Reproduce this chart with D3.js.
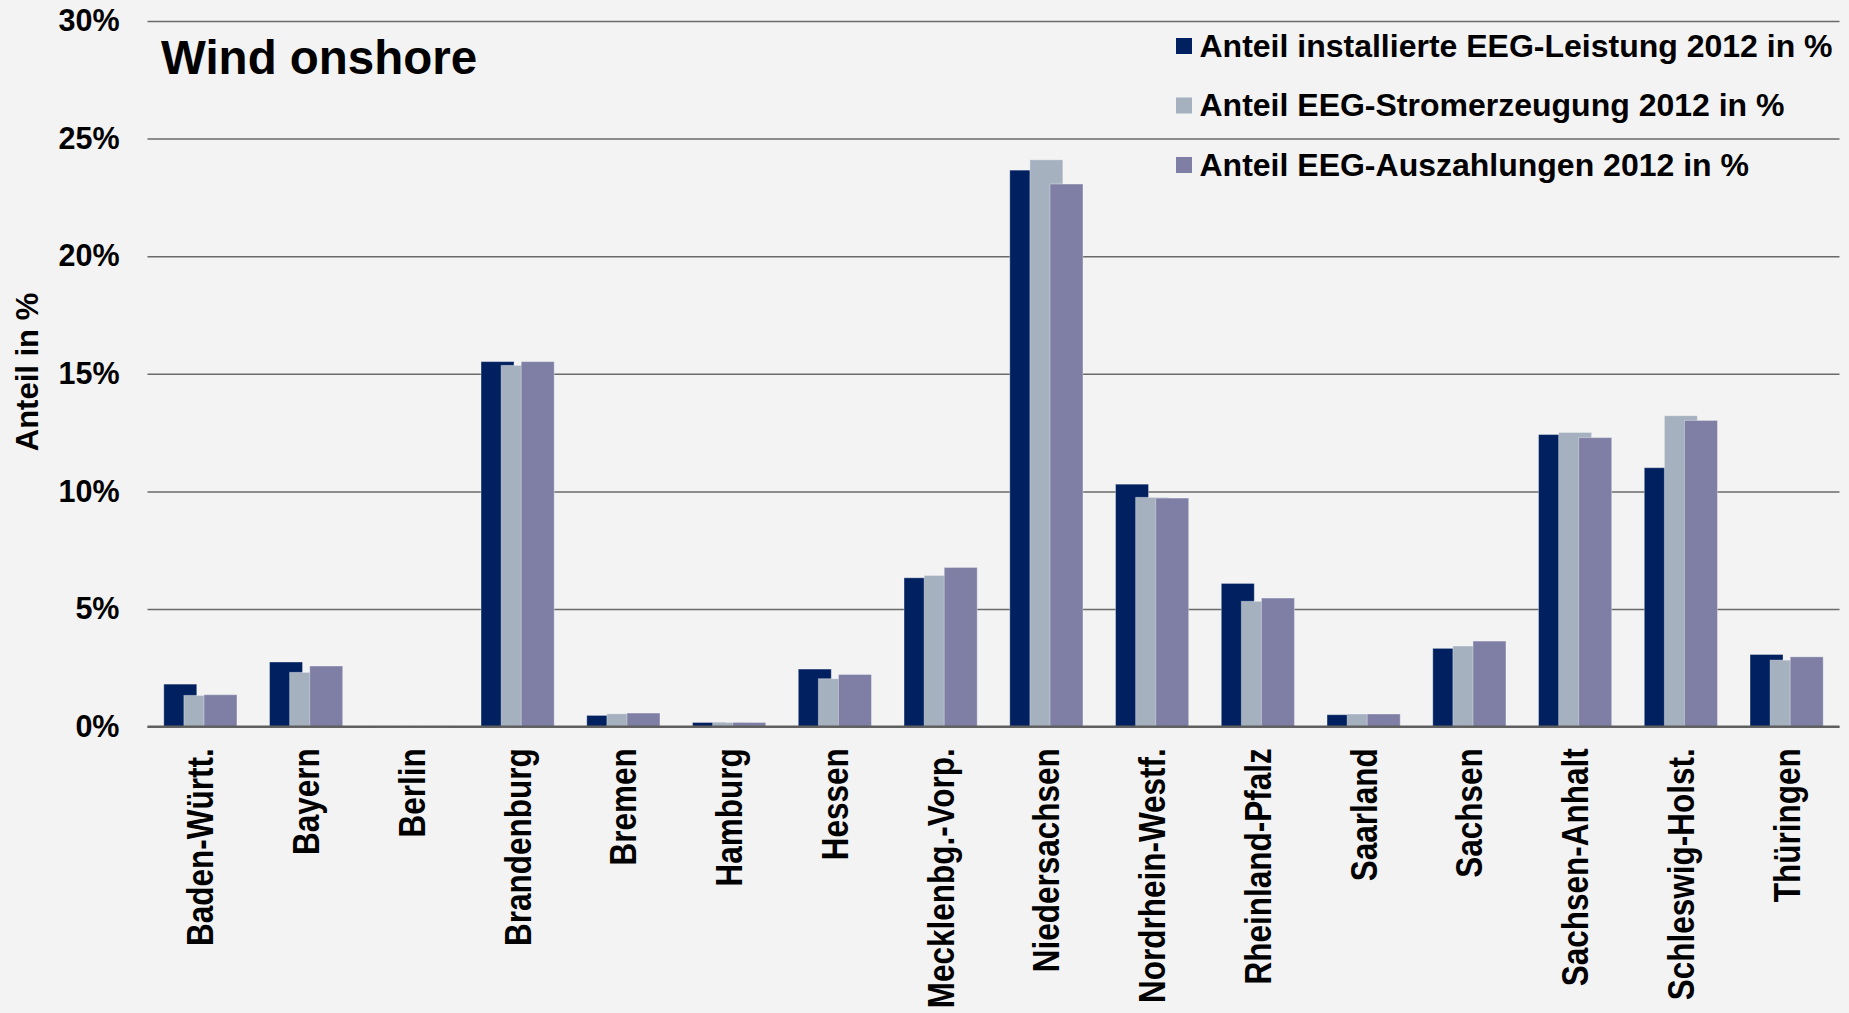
<!DOCTYPE html>
<html lang="de">
<head>
  <meta charset="UTF-8">
  <title>Wind onshore</title>
  <script src="https://d3js.org/d3.v7.min.js"></script>
  <style>
    body {
      margin: 0;
      background: #f3f3f3;
    }
    svg text {
      font-family: Arial, "Liberation Sans", sans-serif;
      font-weight: bold;
      fill: #000;
    }
  </style>
</head>
<body>
  <div id="chart"></div>
  <script>
    const categories = ['Baden-Württ.', 'Bayern', 'Berlin', 'Brandenburg', 'Bremen', 'Hamburg', 'Hessen',
      'Mecklenbg.-Vorp.', 'Niedersachsen', 'Nordrhein-Westf.', 'Rheinland-Pfalz', 'Saarland', 'Sachsen',
      'Sachsen-Anhalt', 'Schleswig-Holst.', 'Thüringen']

    const leistung = [1.81, 2.75, 0.03, 15.52, 0.48, 0.18, 2.45, 6.33, 23.66, 10.31, 6.09, 0.51, 3.33, 12.42, 11.01, 3.07]
    const stromerzeugung = [1.33, 2.31, 0.02, 15.36, 0.55, 0.18, 2.04, 6.43, 24.1, 9.75, 5.33, 0.54, 3.43, 12.51, 13.22, 2.83]
    const auszahlungen = [1.36, 2.58, 0.02, 15.52, 0.58, 0.18, 2.22, 6.77, 23.07, 9.72, 5.47, 0.54, 3.64, 12.29, 13.02, 2.97]

    const seriesNames = ['Anteil installierte EEG-Leistung 2012 in %', 'Anteil EEG-Stromerzeugung 2012 in %',
      'Anteil EEG-Auszahlungen 2012 in %']
    const seriesColors = ['#00205f', '#a6b1bf', '#7f7fa5']
    const tickValues = [0, 5, 10, 15, 20, 25, 30]

    const width = 1849
    const height = 1013
    const margin = { top: 21, right: 9.5, bottom: 286.3, left: 147.5 }

    const svg = d3.select('#chart').append('svg')
      .attr('width', width)
      .attr('height', height)
      .style('background', '#f3f3f3')

    const x = d3.scaleBand()
      .domain(categories)
      .range([margin.left, width - margin.right])

    const y = d3.scaleLinear()
      .domain([0, 30])
      .range([height - margin.bottom, margin.top])

    // gridlines + y labels
    const yAxis = svg.append('g')
      .attr('transform', 'translate(' + margin.left + ',0)')
      .call(d3.axisLeft(y)
        .tickValues(tickValues)
        .tickSize(-(width - margin.left - margin.right))
        .tickPadding(28)
        .tickFormat(d => d + '%'))

    yAxis.select('.domain').remove()
    yAxis.selectAll('.tick line')
      .attr('stroke', '#6a6a6a')
      .attr('stroke-width', 1.5)
    yAxis.selectAll('.tick text')
      .style('font-size', '30.5px')
      .attr('fill', '#000')

    // bars, one series after the other so later ones overlap
    const bw = x.bandwidth()
    const barW = bw * 0.312
    const step = bw * 0.19
    const groupW = barW + 2 * step

    const series = [leistung, stromerzeugung, auszahlungen]
    series.forEach((values, s) => {
      svg.append('g')
        .selectAll('rect')
        .data(values)
        .enter()
        .append('rect')
        .attr('x', (d, i) => x(categories[i]) + (bw - groupW) / 2 + s * step)
        .attr('y', d => y(d))
        .attr('width', barW)
        .attr('height', d => y(0) - y(d))
        .attr('fill', seriesColors[s])
        .attr('stroke', 'rgba(255,255,255,0.35)')
        .attr('stroke-width', 1)
    })

    // zero line
    svg.append('line')
      .attr('x1', margin.left)
      .attr('x2', width - margin.right)
      .attr('y1', y(0))
      .attr('y2', y(0))
      .attr('stroke', '#5e5e5e')
      .attr('stroke-width', 2.2)

    // x labels
    svg.append('g')
      .selectAll('text')
      .data(categories)
      .enter()
      .append('text')
      .attr('transform', d => 'translate(' + (x(d) + bw / 2) + ',' + (y(0) + 21.5) + ') scale(1.15,1) rotate(-90)')
      .attr('text-anchor', 'end')
      .attr('dy', '0.36em')
      .style('font-size', '31.5px')
      .text(d => d)

    // y title
    svg.append('text')
      .attr('transform', 'translate(38,372) rotate(-90)')
      .attr('text-anchor', 'middle')
      .style('font-size', '31px')
      .text('Anteil in %')

    // chart title
    svg.append('text')
      .attr('x', 161)
      .attr('y', 74)
      .style('font-size', '47.5px')
      .text('Wind onshore')

    // legend
    const legend = svg.append('g')
      .selectAll('g')
      .data(seriesNames)
      .enter()
      .append('g')
      .attr('transform', (d, i) => 'translate(1176,' + (46 + i * 59.5) + ')')

    legend.append('rect')
      .attr('x', 0)
      .attr('y', -8)
      .attr('width', 16)
      .attr('height', 16)
      .attr('fill', (d, i) => seriesColors[i])

    legend.append('text')
      .attr('x', 23.5)
      .attr('y', 10.5)
      .style('font-size', '32px')
      .text(d => d)
  </script>
</body>
</html>
